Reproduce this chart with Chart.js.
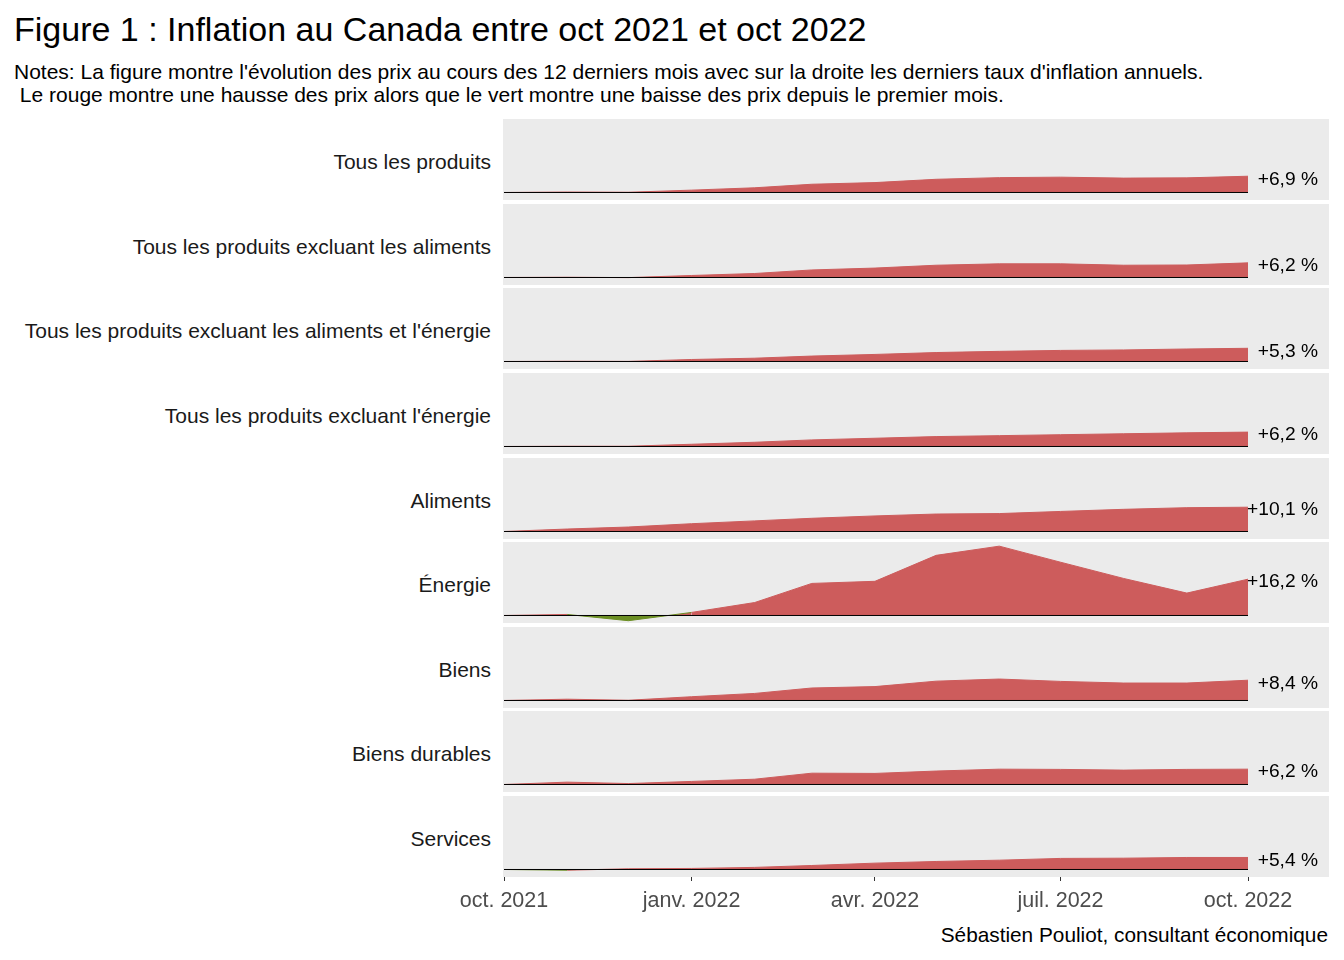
<!DOCTYPE html>
<html lang="fr">
<head>
<meta charset="utf-8">
<title>Inflation au Canada</title>
<script src="https://cdn.jsdelivr.net/npm/chart.js@4.4.1/dist/chart.umd.min.js"></script>
<style>
  html, body { margin: 0; padding: 0; background: #fff; }
  body { width: 1344px; height: 960px; position: relative; overflow: hidden;
         font-family: "Liberation Sans", Arial, sans-serif; }
  .txt { position: absolute; white-space: pre; line-height: 1; color: #000; }
  #title { left: 14px; top: 11.5px; font-size: 34px; }
  #notes { left: 14px; top: 60px; font-size: 21px; line-height: 23px; }
  #caption { right: 16px; top: 925px; font-size: 20.8px; }
  .strip { position: absolute; right: 853px; font-size: 21px; line-height: 1;
           color: #1a1a1a; white-space: nowrap; }
  canvas.panel { position: absolute; }
</style>
</head>
<body>
<div id="title" class="txt">Figure 1 : Inflation au Canada entre oct 2021 et oct 2022</div>
<div id="notes" class="txt">Notes: La figure montre l'évolution des prix au cours des 12 derniers mois avec sur la droite les derniers taux d'inflation annuels.
 Le rouge montre une hausse des prix alors que le vert montre une baisse des prix depuis le premier mois.</div>
<div id="caption" class="txt">Sébastien Pouliot, consultant économique</div>

<script>
// jours écoulés depuis le 1er oct. 2021, un point par mois
const months = [0, 31, 61, 92, 123, 151, 182, 212, 243, 273, 304, 335, 365];

const categories = [
    'Tous les produits',
    'Tous les produits excluant les aliments',
    "Tous les produits excluant les aliments et l'énergie",
    "Tous les produits excluant l'énergie",
    'Aliments',
    'Énergie',
    'Biens',
    'Biens durables',
    'Services'
];

// variation des prix (%) depuis oct. 2021
const tousProduits = [0, 0.2, 0.1, 1.0, 2.0, 3.5, 4.2, 5.6, 6.3, 6.5, 6.1, 6.2, 6.9];
const exclAliments = [0, 0.1, -0.05, 0.85, 1.7, 3.2, 4.0, 5.2, 5.8, 5.8, 5.2, 5.3, 6.2];
const exclAlimEnergie = [0, 0.1, 0.05, 0.85, 1.4, 2.3, 3.0, 3.8, 4.3, 4.7, 4.9, 5.3, 5.6];
const exclEnergie = [0, 0.1, 0.1, 0.95, 1.8, 2.8, 3.5, 4.2, 4.6, 5.0, 5.4, 5.8, 6.1];
const aliments = [0, 1.05, 1.9, 3.3, 4.5, 5.6, 6.6, 7.4, 7.6, 8.5, 9.4, 10.1, 10.3];
const energie = [0, 0.45, -2.2, 1.3, 5.5, 13.6, 14.5, 25.5, 29.4, 22.6, 15.7, 9.5, 15.4];
const biens = [0, 0.55, 0.1, 1.6, 3.0, 5.3, 5.9, 8.2, 9.1, 8.1, 7.4, 7.4, 8.6];
const biensDurables = [0, 1.0, 0.4, 1.3, 2.25, 4.8, 4.7, 5.7, 6.5, 6.4, 6.1, 6.4, 6.5];
const services = [0, -0.3, 0.3, 0.45, 0.9, 1.7, 2.7, 3.4, 3.95, 4.7, 4.8, 5.1, 5.1];

const series = [tousProduits, exclAliments, exclAlimEnergie, exclEnergie,
                aliments, energie, biens, biensDurables, services];

// derniers taux d'inflation annuels
const lastLabels = ['+6,9 %', '+6,2 %', '+5,3 %', '+6,2 %', '+10,1 %',
                    '+16,2 %', '+8,4 %', '+6,2 %', '+5,4 %'];

const tickDays = [0, 92, 182, 273, 365];
const tickLabels = ['oct. 2021', 'janv. 2022', 'avr. 2022', 'juil. 2022', 'oct. 2022'];

const RED = '#cd5c5c';
const GREEN = '#6b8e23';
const PANEL_BG = '#ebebeb';
const FONT = '"Liberation Sans", Arial, sans-serif';

// mise en page (px)
const CANVAS_LEFT = 440;
const CANVAS_WIDTH = 900;
const PANEL_LEFT = 503;
const PANEL_RIGHT = 1329;
const PANEL_TOP = 119;
const PANEL_PITCH = 84.625;
const PANEL_HEIGHT = 81;
const AXIS_HEIGHT = 45;
const LABEL_RIGHT = 1318;

// échelle commune à tous les panneaux (zéro sur un demi-pixel pour une ligne nette)
const PX_PER_DAY = (1248 - 504) / 365;
const X_MIN = (PANEL_LEFT - 504) / PX_PER_DAY;
const X_MAX = (PANEL_RIGHT - 504) / PX_PER_DAY;
const Y_MIN = -3.18;
const Y_MAX = 31.16;

const panelBackground = {
    id: 'panelBackground',
    beforeDraw(chart) {
        const { ctx, chartArea: a } = chart;
        ctx.save();
        ctx.fillStyle = PANEL_BG;
        ctx.fillRect(a.left, a.top, a.right - a.left, a.bottom - a.top);
        ctx.restore();
    }
};

const endLabel = {
    id: 'endLabel',
    afterDatasetsDraw(chart, args, opts) {
        const pts = chart.getDatasetMeta(0).data;
        const last = pts[pts.length - 1];
        const ctx = chart.ctx;
        ctx.save();
        ctx.font = '19.2px ' + FONT;
        ctx.fillStyle = '#000';
        ctx.textAlign = 'right';
        ctx.textBaseline = 'middle';
        ctx.fillText(opts.text, LABEL_RIGHT - CANVAS_LEFT, last.y + 3);
        ctx.restore();
    }
};

categories.forEach((name, i) => {
    const isLast = i === categories.length - 1;
    const top = Math.round(PANEL_TOP + i * PANEL_PITCH);
    const height = PANEL_HEIGHT + (isLast ? AXIS_HEIGHT : 0);

    const strip = document.createElement('div');
    strip.className = 'strip';
    strip.textContent = name;
    strip.style.top = (top + 32) + 'px';
    document.body.appendChild(strip);

    const canvas = document.createElement('canvas');
    canvas.className = 'panel';
    canvas.width = CANVAS_WIDTH;
    canvas.height = height;
    canvas.style.left = CANVAS_LEFT + 'px';
    canvas.style.top = top + 'px';
    canvas.style.width = CANVAS_WIDTH + 'px';
    canvas.style.height = height + 'px';
    document.body.appendChild(canvas);

    const values = series[i];

    new Chart(canvas.getContext('2d'), {
        type: 'line',
        data: {
            datasets: [
                {
                    data: months.map((d, k) => ({ x: d, y: values[k] })),
                    fill: { target: 'origin', above: RED, below: GREEN },
                    borderColor: RED,
                    borderWidth: 1,
                    segment: {
                        borderColor: c => (c.p0.parsed.y + c.p1.parsed.y < 0) ? GREEN : RED
                    },
                    pointRadius: 0,
                    tension: 0,
                    order: 1
                },
                {
                    // ligne du zéro
                    data: [{ x: months[0], y: 0 }, { x: months[months.length - 1], y: 0 }],
                    borderColor: '#000',
                    borderWidth: 1,
                    pointRadius: 0,
                    fill: false,
                    order: 0
                }
            ]
        },
        options: {
            responsive: false,
            animation: false,
            events: [],
            layout: {
                padding: { left: PANEL_LEFT - CANVAS_LEFT, right: CANVAS_LEFT + CANVAS_WIDTH - PANEL_RIGHT, top: 0, bottom: 0 }
            },
            scales: {
                x: {
                    type: 'linear',
                    min: X_MIN,
                    max: X_MAX,
                    display: isLast,
                    afterBuildTicks: s => { s.ticks = tickDays.map(v => ({ value: v })); },
                    afterFit: s => { if (isLast) s.height = AXIS_HEIGHT; },
                    ticks: {
                        callback: (v, idx) => tickLabels[idx],
                        color: '#4d4d4d',
                        font: { family: FONT, size: 21.5 },
                        padding: 7,
                        maxRotation: 0,
                        autoSkip: false
                    },
                    grid: {
                        drawOnChartArea: false,
                        drawTicks: true,
                        tickLength: 4,
                        tickColor: '#333',
                        tickWidth: 1
                    },
                    border: { display: false }
                },
                y: { min: Y_MIN, max: Y_MAX, display: false }
            },
            plugins: {
                legend: { display: false },
                tooltip: { enabled: false },
                endLabel: { text: lastLabels[i] }
            }
        },
        plugins: [panelBackground, endLabel]
    });
});
</script>
</body>
</html>
